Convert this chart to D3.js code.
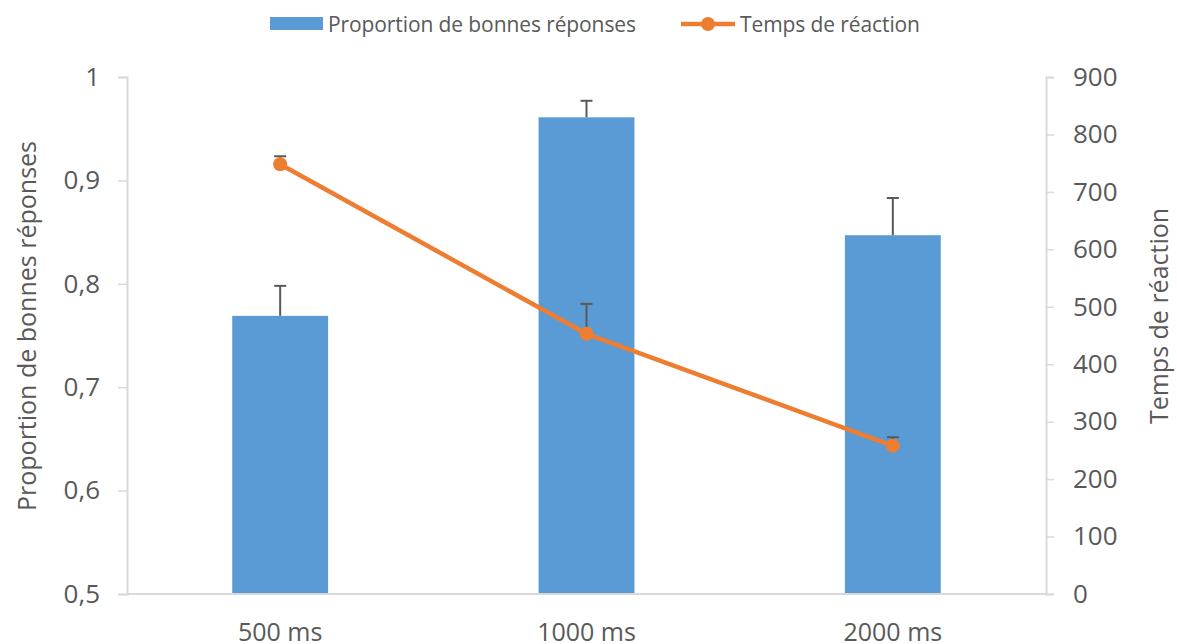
<!DOCTYPE html>
<html><head><meta charset="utf-8">
<script src="https://cdn.jsdelivr.net/npm/d3@7"></script>
<style>body{margin:0;background:#fff}svg{display:block}text{font-family:"Open Sans",sans-serif;fill:#595959}</style>
</head><body><svg id="c" width="1177" height="644"></svg>
<script>
const categories = ["500 ms", "1000 ms", "2000 ms"];
const proportion = [0.769, 0.961, 0.847];
const proportionErr = [0.029, 0.016, 0.036];
const reactionTime = [748, 453, 258];
const reactionErr = [14, 52, 15];
const leftTicks = [0.5, 0.6, 0.7, 0.8, 0.9, 1];
const rightTicks = [0, 100, 200, 300, 400, 500, 600, 700, 800, 900];

const svg = d3.select("#c");
const L = 127, R = 1046, T = 77, B = 594;
const x = d3.scaleBand().domain(categories).range([L, R]).paddingInner(0.687).paddingOuter(0.3435);
const yL = d3.scaleLinear().domain([0.5, 1]).range([B, T]);
const yR = d3.scaleLinear().domain([0, 900]).range([B, T]);
const fmt = d => String(d).replace(".", ",");

// bars
svg.selectAll("rect.bar").data(categories).join("rect")
  .attr("x", d => x(d)).attr("width", x.bandwidth())
  .attr("y", (d, i) => yL(proportion[i])).attr("height", (d, i) => B - yL(proportion[i]))
  .attr("fill", "#5B9BD5");

// axes
const axL = svg.append("g").attr("transform", `translate(${L},0)`)
  .call(d3.axisLeft(yL).tickValues(leftTicks).tickFormat(fmt).tickSize(9).tickPadding(18));
const axR = svg.append("g").attr("transform", `translate(${R},0)`)
  .call(d3.axisRight(yR).tickValues(rightTicks).tickSize(8).tickPadding(19));
const axX = svg.append("g").attr("transform", `translate(0,${B})`)
  .call(d3.axisBottom(x).tickSize(0).tickPadding(0));
[axL, axR, axX].forEach(g => {
  g.select(".domain").attr("stroke", "#D9D9D9").attr("stroke-width", 2);
  g.selectAll(".tick line").attr("stroke", "#D9D9D9").attr("stroke-width", 1.5);
  g.selectAll(".tick text").attr("font-size", 26).attr("fill", "#595959").attr("font-family", '"Open Sans",sans-serif');
});
axX.selectAll(".tick text").attr("font-size", 25).attr("dy", null).attr("y", 47);
axX.select(".domain").attr("d", `M${L},0H${R}`);

// error bars for bars
const cx = d => x(d) + x.bandwidth() / 2;
categories.forEach((c, i) => {
  const y0 = yL(proportion[i]), y1 = yL(proportion[i] + proportionErr[i]);
  svg.append("line").attr("x1", cx(c)).attr("x2", cx(c)).attr("y1", y0).attr("y2", y1).attr("stroke", "#595959").attr("stroke-width", 2);
  svg.append("line").attr("x1", cx(c) - 6).attr("x2", cx(c) + 6).attr("y1", y1).attr("y2", y1).attr("stroke", "#595959").attr("stroke-width", 2);
});

// line
const line = d3.line().x((d, i) => cx(categories[i])).y(d => yR(d));
svg.append("path").datum(reactionTime).attr("d", line).attr("fill", "none").attr("stroke", "#ED7D31").attr("stroke-width", 4.5).attr("stroke-linejoin", "round");
categories.forEach((c, i) => {
  const y0 = yR(reactionTime[i]), y1 = yR(reactionTime[i] + reactionErr[i]);
  svg.append("line").attr("x1", cx(c)).attr("x2", cx(c)).attr("y1", y0).attr("y2", y1).attr("stroke", "#595959").attr("stroke-width", 2);
  svg.append("line").attr("x1", cx(c) - 6).attr("x2", cx(c) + 6).attr("y1", y1).attr("y2", y1).attr("stroke", "#595959").attr("stroke-width", 2);
});
svg.selectAll("circle.pt").data(reactionTime).join("circle")
  .attr("cx", (d, i) => cx(categories[i])).attr("cy", d => yR(d)).attr("r", 7).attr("fill", "#ED7D31");

// axis titles
svg.append("text").attr("transform", `translate(36,326) rotate(-90)`).attr("text-anchor", "middle")
  .attr("font-size", 25).text("Proportion de bonnes réponses");
svg.append("text").attr("transform", `translate(1168,316) rotate(-90)`).attr("text-anchor", "middle")
  .attr("font-size", 25).text("Temps de réaction");

// legend
const lg = svg.append("g");
lg.append("rect").attr("x", 270).attr("y", 17).attr("width", 53).attr("height", 13).attr("fill", "#5B9BD5");
lg.append("text").attr("x", 328).attr("y", 32).attr("font-size", 21).attr("textLength", 308).text("Proportion de bonnes réponses");
lg.append("line").attr("x1", 681).attr("x2", 735).attr("y1", 24).attr("y2", 24).attr("stroke", "#ED7D31").attr("stroke-width", 4.5);
lg.append("circle").attr("cx", 708).attr("cy", 24).attr("r", 7).attr("fill", "#ED7D31");
lg.append("text").attr("x", 740).attr("y", 32).attr("font-size", 21).attr("textLength", 180).text("Temps de réaction");
</script></body></html>
